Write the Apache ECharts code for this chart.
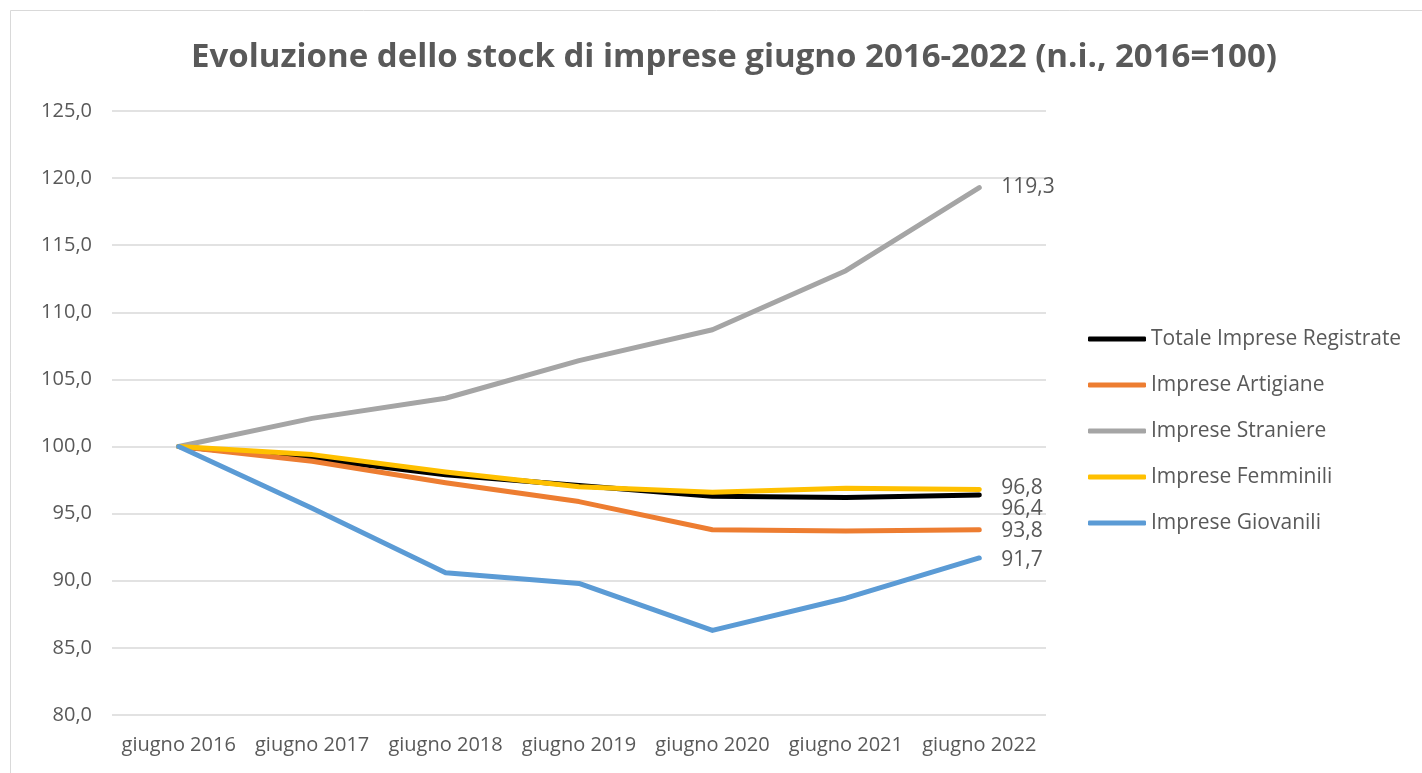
<!DOCTYPE html>
<html>
<head>
<meta charset="utf-8">
<script src="https://cdn.jsdelivr.net/npm/echarts@6/dist/echarts.min.js"></script>
<style>
  html, body { margin: 0; padding: 0; background: #fff; }
  #chart { width: 1422px; height: 773px; }
</style>
</head>
<body>
<div id="chart"></div>
<script>
// categorie asse x
var anni = ['giugno 2016', 'giugno 2017', 'giugno 2018', 'giugno 2019', 'giugno 2020', 'giugno 2021', 'giugno 2022'];
// serie (numeri indice, 2016=100)
var totale = [100, 99.1, 97.9, 97.1, 96.3, 96.2, 96.4];
var artigiane = [100, 98.9, 97.3, 95.9, 93.8, 93.7, 93.8];
var straniere = [100, 102.1, 103.6, 106.4, 108.7, 113.1, 119.3];
var femminili = [100, 99.4, 98.1, 97.0, 96.6, 96.9, 96.8];
var giovanili = [100, 95.4, 90.6, 89.8, 86.3, 88.7, 91.7];

var nomi = ['Totale Imprese Registrate', 'Imprese Artigiane', 'Imprese Straniere', 'Imprese Femminili', 'Imprese Giovanili'];
var colori = ['#000000', '#ED7D31', '#A5A5A5', '#FFC000', '#5B9BD5'];
var valori = [totale, artigiane, straniere, femminili, giovanili];
// spostamento etichetta finale (per 96,8 / 96,4)
var spostamenti = [[0, 14], [0, 1], [0, 0], [0, -1], [0, 2]];

function fmt(v) {
  return v.toFixed(1).replace('.', ',');
}

var testo = '#595959';
var font = 'Open Sans';

var series = [];
for (let i = 0; i < nomi.length; i++) {
  let ultimo = valori[i].length - 1;
  series.push({
    name: nomi[i],
    type: 'line',
    symbol: 'circle',
    symbolSize: 0,
    showSymbol: true,
    lineStyle: { color: colori[i], width: 5, cap: 'round', join: 'round' },
    itemStyle: { color: colori[i] },
    emphasis: { disabled: true },
    data: valori[i].map(function (v, k) {
      if (k !== ultimo) return v;
      return {
        value: v,
        label: {
          show: true,
          position: 'right',
          distance: 22,
          offset: spostamenti[i],
          color: testo,
          fontFamily: font,
          fontSize: 21,
          formatter: function (p) { return fmt(p.value); }
        }
      };
    })
  });
}

var myChart = echarts.init(document.getElementById('chart'));
var option = {
  animation: false,
  backgroundColor: '#fff',
  title: {
    text: 'Evoluzione dello stock di imprese giugno 2016-2022 (n.i., 2016=100)',
    left: 729,
    textAlign: 'center',
    top: 36,
    textStyle: { color: testo, fontFamily: font, fontSize: 33, fontWeight: 'bold' }
  },
  graphic: [{
    type: 'rect',
    shape: { x: 10.5, y: 10.5, width: 1420, height: 770 },
    style: { fill: 'none', stroke: '#D9D9D9', lineWidth: 1 },
    silent: true
  }],
  legend: {
    orient: 'vertical',
    left: 1083,
    top: 322,
    icon: 'roundRect',
    itemWidth: 58,
    itemHeight: 5,
    itemGap: 22,
    textStyle: { color: testo, fontFamily: font, fontSize: 21, lineHeight: 24 },
    data: nomi
  },
  grid: { left: 112, right: 376, top: 111, bottom: 58 },
  xAxis: {
    type: 'category',
    data: anni,
    boundaryGap: true,
    axisLine: { show: false },
    axisTick: { show: false },
    axisLabel: { color: testo, fontFamily: font, fontSize: 20, margin: 20, interval: 0 }
  },
  yAxis: {
    type: 'value',
    min: 80,
    max: 125,
    interval: 5,
    axisLine: { show: false },
    axisTick: { show: false },
    splitLine: { lineStyle: { color: '#D9D9D9', width: 1.5 } },
    axisLabel: { color: testo, fontFamily: font, fontSize: 20, margin: 20, formatter: fmt }
  },
  series: series
};
myChart.setOption(option);
window.addEventListener('resize', () => {
  myChart.resize();
});
</script>
</body>
</html>
